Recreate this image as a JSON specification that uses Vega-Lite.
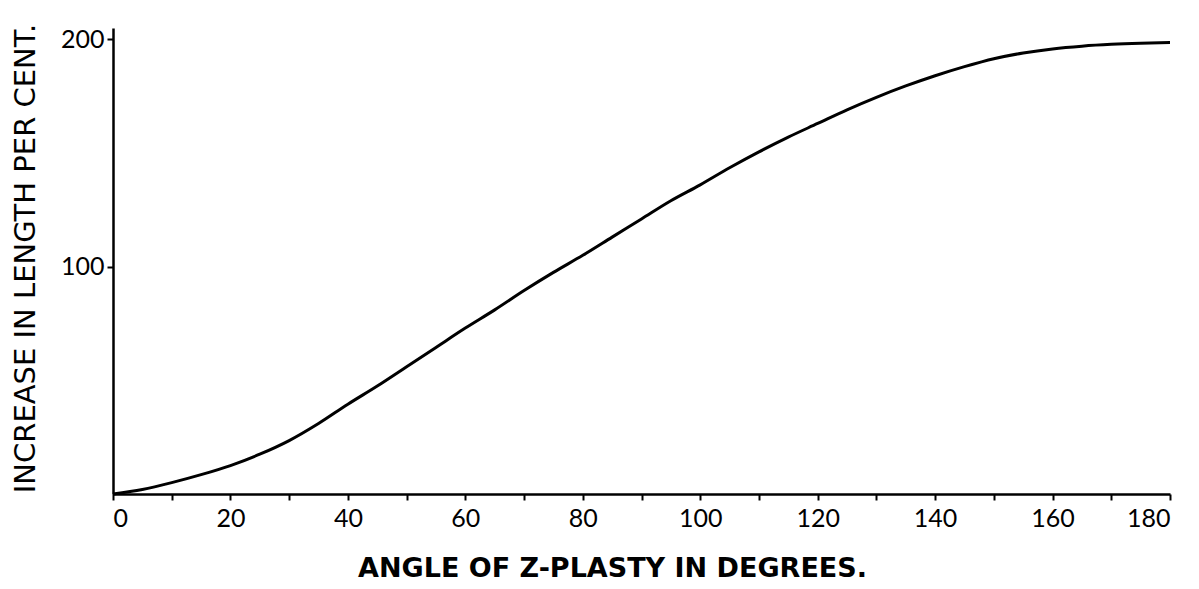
{
  "$schema": "https://vega.github.io/schema/vega-lite/v6.json",
  "autosize": "none",
  "width": 1057,
  "height": 466,
  "padding": {"left": 113, "top": 28, "right": 29, "bottom": 95},
  "background": "white",
  "config": {"view": {"stroke": null}, "font": "Lato"},
  "data": {"values": [
    {"angle": 0, "increase": 0},
    {"angle": 5, "increase": 2},
    {"angle": 10, "increase": 5},
    {"angle": 15, "increase": 8.5},
    {"angle": 20, "increase": 12.5},
    {"angle": 25, "increase": 17.5},
    {"angle": 30, "increase": 23.5},
    {"angle": 35, "increase": 31},
    {"angle": 40, "increase": 39.5},
    {"angle": 45, "increase": 47.5},
    {"angle": 50, "increase": 56},
    {"angle": 55, "increase": 64.5},
    {"angle": 60, "increase": 73},
    {"angle": 65, "increase": 81},
    {"angle": 70, "increase": 89.5},
    {"angle": 75, "increase": 97.5},
    {"angle": 80, "increase": 105},
    {"angle": 85, "increase": 113},
    {"angle": 90, "increase": 121},
    {"angle": 95, "increase": 129},
    {"angle": 100, "increase": 136},
    {"angle": 105, "increase": 143.5},
    {"angle": 110, "increase": 150.5},
    {"angle": 115, "increase": 157},
    {"angle": 120, "increase": 163},
    {"angle": 125, "increase": 169},
    {"angle": 130, "increase": 174.5},
    {"angle": 135, "increase": 179.5},
    {"angle": 140, "increase": 184},
    {"angle": 145, "increase": 188},
    {"angle": 150, "increase": 191.5},
    {"angle": 155, "increase": 194},
    {"angle": 160, "increase": 195.8},
    {"angle": 165, "increase": 197},
    {"angle": 170, "increase": 197.8},
    {"angle": 175, "increase": 198.3},
    {"angle": 180, "increase": 198.6}
  ]},
  "mark": {"type": "line", "color": "black", "strokeWidth": 3, "interpolate": "monotone"},
  "encoding": {
    "x": {
      "field": "angle", "type": "quantitative",
      "scale": {"domain": [0, 180], "nice": false},
      "axis": {
        "title": "ANGLE OF Z-PLASTY IN DEGREES.",
        "values": [0,10,20,30,40,50,60,70,80,90,100,110,120,130,140,150,160,170,180],
        "labelExpr": "datum.value % 20 == 0 ? datum.label : ''",
        "grid": false,
        "domainColor": "black", "domainWidth": 2.5,
        "tickColor": "black", "tickWidth": 2, "tickSize": 6,
        "labelFontSize": 25, "labelColor": "black", "labelPadding": 6,
        "titleFont": "DejaVu Sans", "titleFontSize": 27, "titleColor": "black", "titleFontWeight": "bold",
        "titlePadding": 24, "titleX": 499
      }
    },
    "y": {
      "field": "increase", "type": "quantitative",
      "scale": {"domain": [0, 205], "nice": false},
      "axis": {
        "title": "INCREASE IN LENGTH PER CENT.",
        "values": [100, 200],
        "grid": false,
        "domainColor": "black", "domainWidth": 2.5,
        "tickColor": "black", "tickWidth": 2, "tickSize": 6,
        "labelFontSize": 25, "labelColor": "black", "labelPadding": 3,
        "titleFont": "DejaVu Sans", "titleFontSize": 29, "titleColor": "black", "titleFontWeight": "normal",
        "titlePadding": 20, "titleY": 230
      }
    }
  }
}
